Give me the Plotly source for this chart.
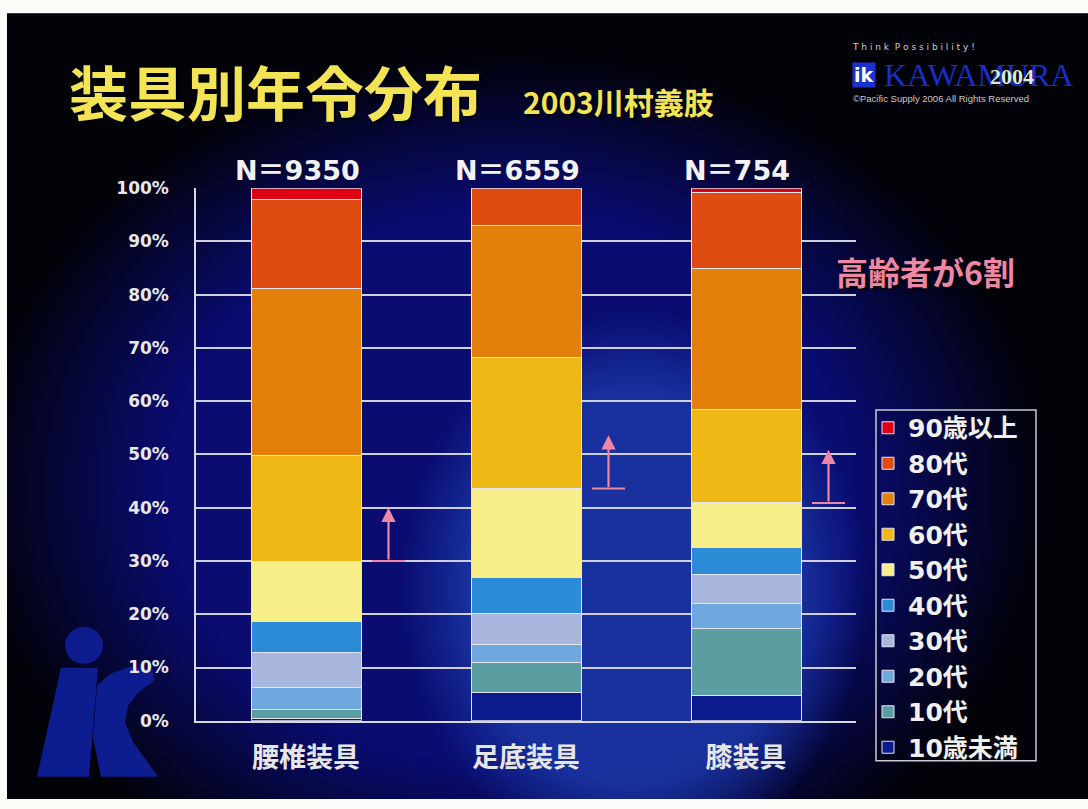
import base64
import struct
import zlib

import numpy as np
import plotly.graph_objects as go

# ---- data -------------------------------------------------------------
categories = ["腰椎装具", "足底装具", "膝装具"]
n_counts = [9350, 6559, 754]

# age bands, bottom of the stack first
age_bands = ["10歳未満", "10代", "20代", "30代", "40代", "50代", "60代", "70代", "80代", "90歳以上"]
share_under10 = [0.4, 5.4, 4.7]
share_10s = [1.8, 5.6, 12.7]
share_20s = [4.1, 3.3, 4.6]
share_30s = [6.5, 5.8, 5.5]
share_40s = [5.9, 6.8, 5.0]
share_50s = [11.3, 16.7, 8.4]
share_60s = [19.8, 24.6, 17.5]
share_70s = [31.3, 24.7, 26.6]
share_80s = [16.8, 7.0, 14.2]
share_90plus = [2.1, 0.1, 0.8]
y_ticks = [0, 10, 20, 30, 40, 50, 60, 70, 80, 90, 100]

series = [share_under10, share_10s, share_20s, share_30s, share_40s,
          share_50s, share_60s, share_70s, share_80s, share_90plus]
colors = ["#0b1a8c", "#5a9ea2", "#6fa7df", "#a9b7de", "#2b8bd6",
          "#f8ee8a", "#f0b814", "#e57f0c", "#df4c12", "#e00014"]

W, H = 1088, 809
SLIDE_X0, SLIDE_Y0 = 7, 13   # white strip left/top of the slide

# page layout: the graph div sits 10px below the page top and the page is
# shown squeezed to the window height, so vertical positions are mapped
V_SCALE = 809 / 829
V_OFF = 10


def px(x):
    return x / W


def fig_y(y):
    """Window pixel row -> figure pixel row."""
    return y / V_SCALE - V_OFF


def py(y):
    return 1 - fig_y(y) / H


# ---- slide backdrop: dark field with a blue spotlight ---------------------
def backdrop_uri(step=4):
    y_top = fig_y(SLIDE_Y0)
    ys = np.arange(y_top, H, step) + step / 2
    xs = np.arange(SLIDE_X0, W, step) + step / 2
    X, Yf = np.meshgrid(xs, ys)
    Y = (Yf + V_OFF) * V_SCALE
    base = np.array([2, 2, 9], float)
    navy = np.array([10, 12, 112], float)
    bright = np.array([28, 56, 168], float)
    d1 = np.sqrt(((X - 510) / 540) ** 2 + ((Y - 490) / 440) ** 2)
    a1 = np.clip((1.0 - d1) / 0.36, 0, 1)[..., None]
    img = base * (1 - a1) + navy * a1
    d2 = np.sqrt(((X - 635) / 235) ** 2 + ((Y - 590) / 280) ** 2)
    a2 = (np.clip((1.0 - d2) / 0.3, 0, 1) * 0.85)[..., None]
    img = img * (1 - a2) + bright * a2
    arr = np.clip(img, 0, 255).astype(np.uint8)
    h, w, _ = arr.shape
    raw = b"".join(b"\x00" + arr[r].tobytes() for r in range(h))

    def chunk(tag, data):
        return (struct.pack(">I", len(data)) + tag + data
                + struct.pack(">I", zlib.crc32(tag + data) & 0xFFFFFFFF))

    png = (b"\x89PNG\r\n\x1a\n"
           + chunk(b"IHDR", struct.pack(">IIBBBBB", w, h, 8, 2, 0, 0, 0))
           + chunk(b"IDAT", zlib.compress(raw, 9))
           + chunk(b"IEND", b""))
    return "data:image/png;base64," + base64.b64encode(png).decode()


fig = go.Figure()
x_idx = list(range(len(categories)))
n_bands = len(age_bands)
for k, (name, vals, col) in enumerate(zip(age_bands, series, colors)):
    fig.add_trace(go.Bar(
        x=x_idx, y=vals, name=name, legendgroup=name, legendrank=n_bands - k,
        marker=dict(color=col, line=dict(color="#e4e4ee", width=1)),
        width=0.5,
    ))

shapes = []

# "ik" mark bottom-left
logo_col = "#0d1c8e"
shapes.append(dict(type="circle", xref="paper", yref="paper",
                   x0=px(65), x1=px(103), y0=py(664), y1=py(627),
                   fillcolor=logo_col, line=dict(width=0), layer="below"))


def poly(pts):
    return "M " + " L ".join(f"{px(a):.5f},{py(b):.5f}" for a, b in pts) + " Z"


shapes.append(dict(type="path", xref="paper", yref="paper",
                   path=poly([(61, 668), (98, 668), (89, 777), (37, 777)]),
                   fillcolor=logo_col, line=dict(width=0), layer="below"))
shapes.append(dict(type="path", xref="paper", yref="paper",
                   path=poly([(97, 686), (110, 674), (130, 667), (153, 670), (154, 681),
                              (139, 692), (128, 706), (125, 723), (133, 742),
                              (158, 777), (101, 777), (93, 738)]),
                   fillcolor=logo_col, line=dict(width=0), layer="below"))

# legend frame
shapes.append(dict(type="rect", xref="paper", yref="paper", x0=px(876), x1=px(1036),
                   y0=py(761), y1=py(410), line=dict(color="#c9c9d4", width=1.5),
                   fillcolor="rgba(0,0,0,0)"))

# elderly-share arrows: start at the lower edge of the 60代 segment
pink = "#ee86a6"
annotations = []
for i in range(len(categories)):
    base = 100 - (share_60s[i] + share_70s[i] + share_80s[i] + share_90plus[i])
    xa = i + 0.375
    shapes.append(dict(type="line", xref="x", yref="y", x0=xa - 0.075, x1=xa + 0.075,
                       y0=base, y1=base, line=dict(color=pink, width=2)))
    annotations.append(dict(x=xa, y=base + 10, ax=xa, ay=base, xref="x", yref="y",
                            axref="x", ayref="y", showarrow=True, arrowhead=2,
                            arrowsize=1.3, arrowwidth=2.2, arrowcolor=pink, text=""))
    annotations.append(dict(x=i, y=100, xref="x", yref="y", yanchor="bottom",
                            yshift=0, xshift=-9,
                            showarrow=False, text=f"N＝{n_counts[i]}",
                            font=dict(family="DejaVu Sans, Noto Sans CJK JP", size=27,
                                      color="#f2f2f2", weight="bold")))

cjk = "Noto Sans CJK JP"
shadow = "2px 2px 2px #000000"
annotations += [
    dict(x=px(67), y=py(90.5), xref="paper", yref="paper", xanchor="left", yanchor="middle",
         text="装具別年令分布", showarrow=False,
         font=dict(family=cjk, size=59, color="#f3e455", weight="bold", shadow=shadow)),
    dict(x=px(521), y=py(100.5), xref="paper", yref="paper", xanchor="left", yanchor="middle",
         text="2003川村義肢", showarrow=False,
         font=dict(family=cjk, size=30, color="#f3e455", weight="bold", shadow=shadow)),
    dict(x=px(834), y=py(270.5), xref="paper", yref="paper", xanchor="left", yanchor="middle",
         text="高齢者が6割", showarrow=False,
         font=dict(family=cjk, size=32, color=pink, weight="bold", shadow=shadow)),
    # corporate mark, top right
    dict(x=px(850), y=py(47), xref="paper", yref="paper", xanchor="left", yanchor="middle",
         text="T h i n k  P o s s i b i l i t y !", showarrow=False,
         font=dict(family="DejaVu Sans", size=9, color="#d8c8c8")),
    dict(x=px(852), y=py(75), xref="paper", yref="paper", xanchor="left", yanchor="middle",
         text="<b>ik</b>", showarrow=False, bgcolor="#1c2fd0",
         font=dict(family="DejaVu Sans", size=19, color="#ffffff")),
    dict(x=px(882), y=py(75), xref="paper", yref="paper", xanchor="left", yanchor="middle",
         text="KAWAMURA", showarrow=False,
         font=dict(family="Liberation Serif", size=32, color="#1a2dc8")),
    dict(x=px(988), y=py(76), xref="paper", yref="paper", xanchor="left", yanchor="middle",
         text="<b>2004</b>", showarrow=False,
         font=dict(family="Liberation Serif", size=22, color="#d9ecd8")),
    dict(x=px(851), y=py(98), xref="paper", yref="paper", xanchor="left", yanchor="middle",
         text="©Pacific Supply 2006 All Rights Reserved", showarrow=False,
         font=dict(family="Liberation Sans", size=9.5, color="#d0c8c8")),
]

fig.update_layout(
    width=W, height=H,
    margin=dict(l=0, r=0, t=0, b=0),
    paper_bgcolor="#fbfbf8",
    plot_bgcolor="rgba(0,0,0,0)",
    barmode="stack",
    bargap=0.5,
    shapes=shapes,
    annotations=annotations,
    images=[dict(source=backdrop_uri(), xref="paper", yref="paper",
                 x=px(SLIDE_X0), y=py(SLIDE_Y0), sizex=1 - px(SLIDE_X0),
                 sizey=py(SLIDE_Y0), xanchor="left", yanchor="top",
                 sizing="stretch", layer="below")],
    legend=dict(
        x=px(868), y=py(405), xanchor="left", yanchor="top",
        traceorder="grouped", tracegroupgap=0,
        bgcolor="rgba(0,0,0,0)", borderwidth=0,
        font=dict(family="DejaVu Sans, Noto Sans CJK JP", size=25, color="#f0f0f0",
                  weight="bold"),
    ),
    xaxis=dict(
        domain=[px(196), px(856)], range=[-0.5, 2.5],
        tickmode="array", tickvals=x_idx, ticktext=categories,
        tickfont=dict(family=cjk, size=27, color="#e6e6e6", weight="bold"),
        ticks="", ticklabelstandoff=12,
        showgrid=False, zeroline=False,
        showline=True, linecolor="#d8d8e2", linewidth=1.5,
    ),
    yaxis=dict(
        domain=[py(721), py(188)], range=[0, 100],
        tickmode="array", tickvals=y_ticks, ticktext=[f"{v}%" for v in y_ticks],
        tickfont=dict(family="DejaVu Sans", size=17, color="#e8e8e8", weight="bold"),
        ticks="", ticklabelstandoff=22,
        showgrid=True, gridcolor="#cfd0dc", gridwidth=1.5,
        zeroline=False, showline=True, linecolor="#d8d8e2", linewidth=1.5,
    ),
)

fig.write_html("out.html")
